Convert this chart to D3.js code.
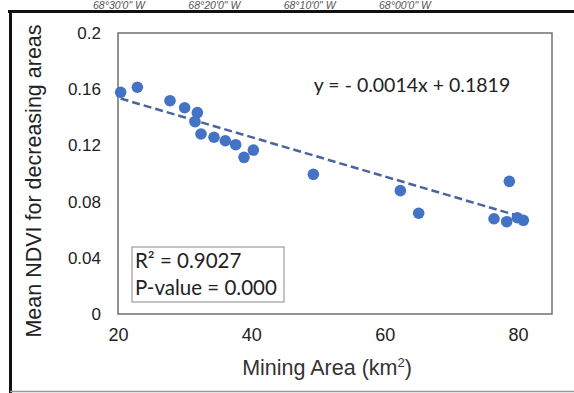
<!DOCTYPE html>
<html>
<head>
<meta charset="utf-8">
<script src="https://cdn.jsdelivr.net/npm/d3@7"></script>
<style>
  html, body { margin: 0; padding: 0; background: #fff; }
  svg { display: block; }
</style>
</head>
<body>
<svg id="chart" width="574" height="393"></svg>
<script>
// Mining area (km²) and mean NDVI of decreasing areas
const miningArea = [20.4, 22.9, 27.8, 30.0, 31.9, 31.55, 32.45, 34.4, 36.1, 37.65, 40.3, 38.9, 49.3, 62.35, 65.1, 78.7, 76.4, 78.3, 79.9, 80.8];
const meanNdvi   = [0.1578, 0.1614, 0.1518, 0.1468, 0.1433, 0.1369, 0.1281, 0.1258, 0.1233, 0.1205, 0.1167, 0.1115, 0.0994, 0.0878, 0.0717, 0.0944, 0.0678, 0.0657, 0.0685, 0.0667];

// Linear fit and statistics
const slope = -0.0014;
const intercept = 0.1819;
const statLines = ["R² = 0.9027", "P-value = 0.000"];
const equationText = "y = - 0.0014x + 0.1819";

const xTicks = [20, 40, 60, 80];
const yTicks = [0, 0.04, 0.08, 0.12, 0.16, 0.2];
const yTickLabels = ["0", "0.04", "0.08", "0.12", "0.16", "0.2"];
const mapLabels = ["68°30'0\" W", "68°20'0\" W", "68°10'0\" W", "68°00'0\" W"];

const svg = d3.select("#chart");

const plot = { left: 118, right: 552, top: 33, bottom: 314 };

const x = d3.scaleLinear().domain([20, 85.1]).range([plot.left, plot.right]);
const y = d3.scaleLinear().domain([0, 0.2]).range([plot.bottom, plot.top]);

// Map coordinate labels running along the top edge
const mapX = d3.scalePoint().domain(mapLabels).range([119, 405]);
svg.append("g").selectAll("text").data(mapLabels).join("text")
  .attr("x", d => mapX(d)).attr("y", 9)
  .attr("text-anchor", "middle")
  .attr("font-family", "Liberation Sans, Arial, sans-serif")
  .attr("font-size", 10.5).attr("font-style", "italic")
  .attr("fill", "#555")
  .text(d => d);

// Outer frame
svg.append("line").attr("x1", 8).attr("x2", 574).attr("y1", 11.5).attr("y2", 11.5)
  .attr("stroke", "#111").attr("stroke-width", 3);
svg.append("line").attr("x1", 10.5).attr("x2", 10.5).attr("y1", 10).attr("y2", 393)
  .attr("stroke", "#111").attr("stroke-width", 3);
svg.append("line").attr("x1", 10).attr("x2", 574).attr("y1", 391.5).attr("y2", 391.5)
  .attr("stroke", "#999").attr("stroke-width", 1.5);

// Plot area border
svg.append("rect")
  .attr("x", plot.left).attr("y", plot.top)
  .attr("width", plot.right - plot.left).attr("height", plot.bottom - plot.top)
  .attr("fill", "none").attr("stroke", "#707070").attr("stroke-width", 1.5);

// Y axis tick labels
const yAxis = d3.axisLeft(y).tickValues(yTicks)
  .tickFormat((d, i) => yTickLabels[i]).tickSize(0).tickPadding(17);
const gy = svg.append("g").attr("transform", `translate(${plot.left},0)`).call(yAxis);
gy.select(".domain").remove();
gy.selectAll("text")
  .attr("font-family", "Liberation Sans, Arial, sans-serif")
  .attr("font-size", 17).attr("fill", "#222");

// X axis tick labels
const xAxis = d3.axisBottom(x).tickValues(xTicks).tickSize(0).tickPadding(14);
const gx = svg.append("g").attr("transform", `translate(0,${plot.bottom})`).call(xAxis);
gx.select(".domain").remove();
gx.selectAll("text")
  .attr("font-family", "Liberation Sans, Arial, sans-serif")
  .attr("font-size", 18).attr("fill", "#222");

// Axis titles
const xTitle = svg.append("text")
  .attr("x", 327).attr("y", 375)
  .attr("text-anchor", "middle")
  .attr("font-family", "Liberation Sans, Arial, sans-serif")
  .attr("font-size", 21.5).attr("fill", "#333");
xTitle.append("tspan").text("Mining Area (km");
xTitle.append("tspan").attr("font-size", 13).attr("dy", -8).text("2");
xTitle.append("tspan").attr("dy", 8).text(")");

svg.append("text")
  .attr("transform", "translate(41,181) rotate(-90)")
  .attr("text-anchor", "middle")
  .attr("font-family", "Liberation Sans, Arial, sans-serif")
  .attr("font-size", 21.5).attr("fill", "#222")
  .text("Mean NDVI for decreasing areas");

// Trend line across the observed range
const xExtent = d3.extent(miningArea);
svg.append("line")
  .attr("x1", x(xExtent[0])).attr("y1", y(slope * xExtent[0] + intercept))
  .attr("x2", x(xExtent[1])).attr("y2", y(slope * xExtent[1] + intercept))
  .attr("stroke", "#4a64a0").attr("stroke-width", 2.5)
  .attr("stroke-dasharray", "8,4");

// Data points
svg.append("g").selectAll("circle")
  .data(miningArea.map((a, i) => [a, meanNdvi[i]]))
  .join("circle")
  .attr("cx", d => x(d[0])).attr("cy", d => y(d[1]))
  .attr("r", 5.8).attr("fill", "#4472c4");

// Regression equation
svg.append("text")
  .attr("x", 412).attr("y", 92)
  .attr("text-anchor", "middle")
  .attr("font-family", "Lato, Carlito, sans-serif")
  .attr("font-size", 19.5).attr("fill", "#222")
  .text(equationText);

// Statistics box
svg.append("rect")
  .attr("x", 132).attr("y", 247).attr("width", 152).attr("height", 55)
  .attr("fill", "#fff").attr("stroke", "#888").attr("stroke-width", 1);
svg.append("g").selectAll("text").data(statLines).join("text")
  .attr("x", 135).attr("y", (d, i) => 268 + i * 27)
  .attr("font-family", "Lato, Carlito, sans-serif")
  .attr("font-size", 20.5).attr("fill", "#222")
  .text(d => d);
</script>
</body>
</html>
